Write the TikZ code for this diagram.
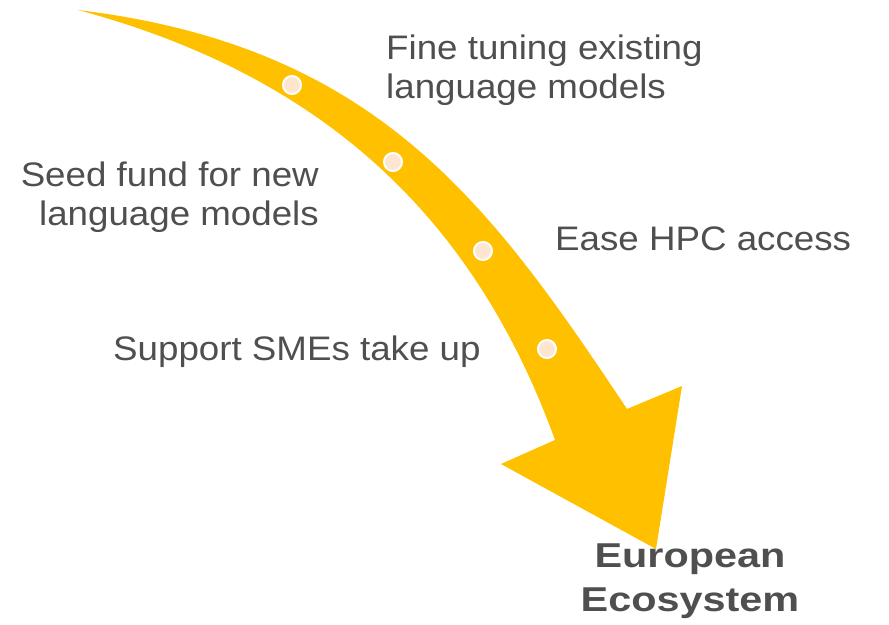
\documentclass[tikz,border=0pt]{standalone}
\usepackage{fontspec}
\setmainfont{Liberation Sans}[FakeStretch=1.08]
\newfontfamily\ecofont{Liberation Sans}[FakeStretch=1.2]
\definecolor{arrowgold}{HTML}{FFC000}
\definecolor{dotpeach}{HTML}{FDE5CF}
\definecolor{textgray}{HTML}{4F4F4F}
\begin{document}
\begin{tikzpicture}[x=1pt,y=-1pt,
  lbl/.style={inner sep=0pt, text=textgray, font=\fontsize{34}{38.5}\selectfont},
  ecolbl/.style={inner sep=0pt, text=textgray, font=\ecofont\bfseries\fontsize{34.5}{43.5}\selectfont, align=center},
  stepdot/.style={circle, fill=dotpeach, draw=white, line width=2pt, minimum size=18pt, inner sep=0pt}]
\useasboundingbox (0,0) rectangle (889,624);
% curved arrow
\fill[arrowgold] (78,10) .. controls (376,46) and (489,201.5) .. (627,409)
  -- (682,386) -- (656,549) -- (501,464) -- (555,440)
  .. controls (473,214) and (320,75) .. (78,10) -- cycle;
% dots
\node[stepdot] (d1) at (292,85) {};
\node[stepdot] (d2) at (393,162) {};
\node[stepdot] (d3) at (483,251) {};
\node[stepdot] (d4) at (547,349) {};
% labels (base anchor = baseline of last line)
\node[lbl, anchor=base west, align=left] (fine) at (386,98) {Fine tuning existing\\language models};
\node[lbl, anchor=base east, align=right] (seed) at (319,225) {Seed fund for new\\language models};
\node[lbl, anchor=base west] (hpc) at (555,250) {Ease HPC access};
\node[lbl, anchor=base west] (sme) at (113,360) {Support SMEs take up};
\node[ecolbl, anchor=base] (eco) at (690,611) {European\\Ecosystem};
\end{tikzpicture}
\end{document}
